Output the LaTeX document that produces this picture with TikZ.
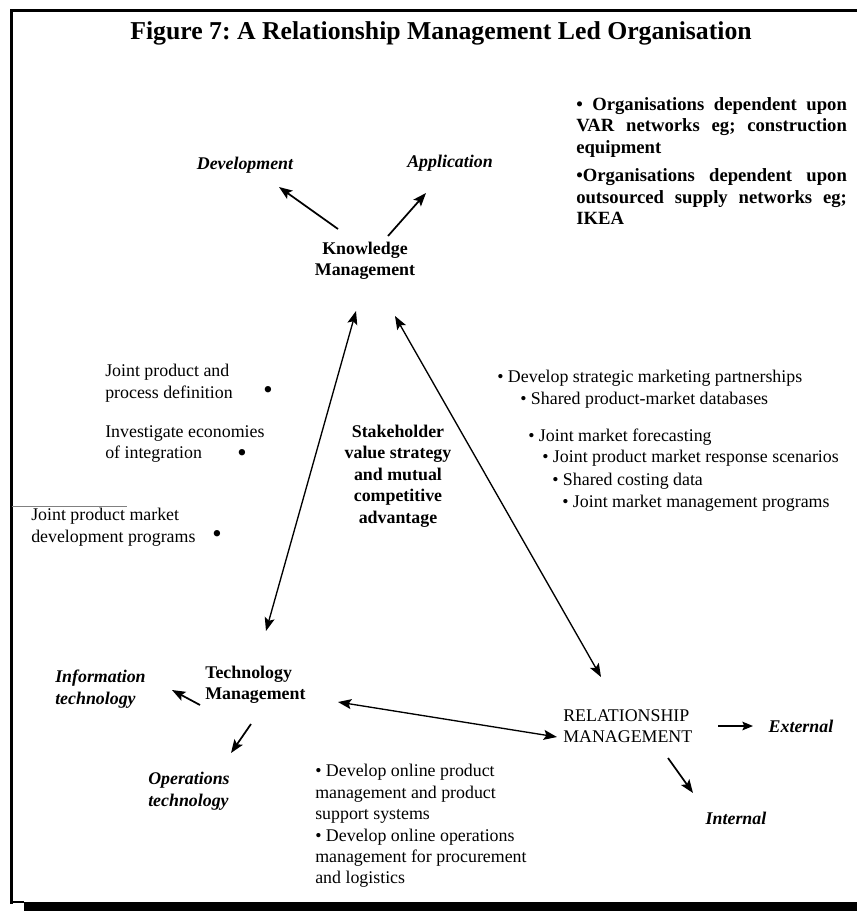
\documentclass[tikz,border=0pt]{standalone}
\usepackage{fontspec}
\setmainfont{Liberation Serif}
\usetikzlibrary{arrows.meta}
\frenchspacing
\tikzset{
  rg/.style={inner sep=0pt, font=\fontsize{13.4}{16.1}\selectfont},
  bf/.style={inner sep=0pt, font=\fontsize{13.4}{16.1}\selectfont\bfseries},
  bi/.style={inner sep=0pt, font=\fontsize{13.4}{16.1}\selectfont\bfseries\itshape},
  tr/.style={inner sep=0pt, font=\fontsize{14}{16.1}\selectfont\bfseries},
  tt/.style={inner sep=0pt, font=\fontsize{19.3}{22}\selectfont\bfseries},
  dot/.style={inner sep=0pt, font=\fontsize{20}{20}\selectfont},
  arr/.style={-{Stealth[length=10pt,width=7.5pt,inset=2pt]}, line width=1.3pt},
  darr/.style={{Stealth[length=10pt,width=7.5pt,inset=2pt]}-{Stealth[length=10pt,width=7.5pt,inset=2pt]}, line width=1pt},
  thinarr/.style={-{Stealth[length=8pt,width=6.5pt,inset=1.5pt]}, line width=0.9pt},
}
\begin{document}
\begin{tikzpicture}[x=0.75pt,y=-0.75pt]
\useasboundingbox (0,0) rectangle (857,911);
% frame
\fill (11,9) rectangle (857,12);
\fill (10,9) rectangle (13,904);
\fill (10,901) rectangle (24,903);
\fill (24,902) rectangle (857,911);
% title
\node[tt] (title) at (441,33) {Figure 7: A Relationship Management Led Organisation};
% knowledge management
\node[bi] (dev) at (245,165) {Development};
\node[bi] (app) at (450,163) {Application};
\node[bf, align=center] (km) at (365,261) {Knowledge\\Management};
\node[tr, align=left, anchor=west] (var) at (576,161)
  {\makebox[203pt][s]{• Organisations dependent upon}\\
   \makebox[203pt][s]{VAR networks eg; construction}\\
   equipment\\[5.5pt]
   \makebox[203pt][s]{•Organisations dependent upon}\\
   \makebox[203pt][s]{outsourced supply networks eg;}\\
   IKEA};
% left list
\node[rg, align=left, anchor=west] (jp) at (105,383) {Joint product and\\process definition};
\node[dot] (b1) at (268,392) {•};
\node[rg, align=left, anchor=west] (ie) at (105,444) {Investigate economies\\of integration};
\node[dot] (b2) at (242,455) {•};
\node[rg, align=left, anchor=west] (jm) at (31,527) {Joint product market\\development programs};
\node[dot] (b3) at (217,536) {•};
\draw[gray, line width=0.6pt] (12,506) -- (127,506);
% centre
\node[bf, align=center] (sh) at (398,476) {Stakeholder\\value strategy\\and mutual\\competitive\\advantage};
% right list
\node[rg, anchor=west] (r1) at (497,378) {• Develop strategic marketing partnerships};
\node[rg, anchor=west] (r2) at (520,400) {• Shared product-market databases};
\node[rg, anchor=west] (r3) at (528,437) {• Joint market forecasting};
\node[rg, anchor=west] (r4) at (542,458) {• Joint product market response scenarios};
\node[rg, anchor=west] (r5) at (552,481) {• Shared costing data};
\node[rg, anchor=west] (r6) at (562,503) {• Joint market management programs};
% technology management
\node[bf, align=left, anchor=west] (tm) at (205,685) {Technology\\Management};
\node[bi, align=left, anchor=west] (it) at (55,689) {Information\\technology};
\node[bi, align=left, anchor=west] (ot) at (148,791) {Operations\\technology};
\node[rg, align=left, anchor=west] (onl) at (315,826) {• Develop online product\\management and product\\support systems\\• Develop online operations\\management for procurement\\and logistics};
% relationship management
\node[rg, align=left, anchor=west] (rm) at (563,726) {RELATIONSHIP\\MANAGEMENT};
\node[bi] (ext) at (801,726) {External};
\node[bi] (int) at (736,818) {Internal};
% connector ends
\coordinate (kmdev) at (338,229); \coordinate (devend) at (279,187);
\coordinate (kmapp) at (388,236); \coordinate (append) at (426,193);
\coordinate (kmtm) at (356,311);  \coordinate (tmkm) at (266,631);
\coordinate (kmrm) at (395,316);  \coordinate (rmkm) at (601,677);
\coordinate (tmrm) at (338,702);  \coordinate (rmtm) at (557,737);
\coordinate (tmit) at (200,705);  \coordinate (itend) at (172,690);
\coordinate (tmot) at (251,724);  \coordinate (otend) at (231,753);
\coordinate (rmext) at (718,726); \coordinate (extend) at (753,726);
\coordinate (rmint) at (668,758); \coordinate (intend) at (693,793);
% connectors
\draw[arr] (kmdev) -- (devend);
\draw[arr] (kmapp) -- (append);
\draw[darr] (kmtm) -- (tmkm);
\draw[darr] (kmrm) -- (rmkm);
\draw[darr] (tmrm) -- (rmtm);
\draw[arr] (tmit) -- (itend);
\draw[arr] (tmot) -- (otend);
\draw[thinarr] (rmext) -- (extend);
\draw[arr] (rmint) -- (intend);
\end{tikzpicture}
\end{document}
